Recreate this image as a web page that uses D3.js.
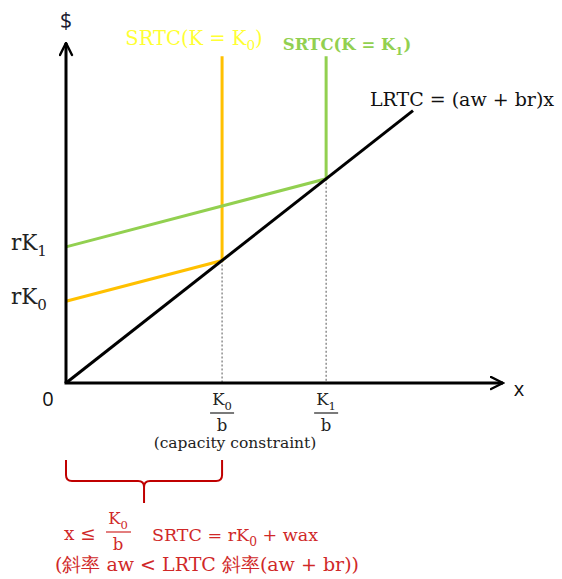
<!DOCTYPE html>
<html><head><meta charset="utf-8">
<script src="https://cdn.jsdelivr.net/npm/d3@7"></script>
<style>body{margin:0;background:#fff}svg{display:block}</style>
</head><body>
<script>
// ---- data ----
const kPoints = [3, 5];                 // K0/b, K1/b (capacity constraints)
const kLabels = ["0", "1"];
const fixedCost = [2, 3.333];           // rK0, rK1 (intercepts)
const srSlope = 1 / 3;                  // wa
const lrSlope = 1;                      // aw + br
const lrEnd = 6.67;                     // where LRTC line stops
const capTop = 8;                       // top of vertical capacity segments
const srColors = ["#FFC000", "#92D050"];
const srTitleColors = ["#FFFF33", "#92D050"];

const W = 562, H = 579;
const svg = d3.select("body").append("svg").attr("width", W).attr("height", H);
const x = d3.scaleLinear().domain([0, 8.4]).range([66, 503]);
const y = d3.scaleLinear().domain([0, 8.3]).range([383, 44]);
const serif = "'DejaVu Serif', serif";
const sans = "'Open Sans', 'DejaVu Sans', sans-serif";

// arrow markers
const defs = svg.append("defs");
defs.append("marker").attr("id", "arr").attr("viewBox", "0 0 10 10")
  .attr("refX", 9).attr("refY", 5).attr("markerWidth", 5).attr("markerHeight", 5)
  .attr("orient", "auto")
  .append("path").attr("d", "M1,1 L9,5 L1,9").attr("fill", "none")
  .attr("stroke", "#000").attr("stroke-width", 1.6).attr("stroke-linecap", "round");

const line = d3.line().x(d => x(d[0])).y(d => y(d[1]));

// dashed verticals
kPoints.forEach((k) => {
  svg.append("line").attr("x1", x(k)).attr("x2", x(k))
    .attr("y1", y(lrSlope * k)).attr("y2", y(0))
    .attr("stroke", "#555").attr("stroke-width", 1).attr("stroke-dasharray", "2,2");
});

// SRTC curves
kPoints.forEach((k, i) => {
  const pts = [[0, fixedCost[i]], [k, fixedCost[i] + srSlope * k], [k, capTop]];
  svg.append("path").attr("d", line(pts)).attr("fill", "none")
    .attr("stroke", srColors[i]).attr("stroke-width", 3);
});

// LRTC
svg.append("path").attr("d", line([[0, 0], [lrEnd, lrSlope * lrEnd]]))
  .attr("fill", "none").attr("stroke", "#000").attr("stroke-width", 3);

// axes
svg.append("line").attr("x1", x(0)).attr("y1", y(0)).attr("x2", x(0)).attr("y2", y(8.3) - 1)
  .attr("stroke", "#000").attr("stroke-width", 3).attr("marker-end", "url(#arr)");
svg.append("line").attr("x1", x(0) - 1.5).attr("y1", y(0)).attr("x2", x(8.4)).attr("y2", y(0))
  .attr("stroke", "#000").attr("stroke-width", 3).attr("marker-end", "url(#arr)");

// helper for text with subscript
function subText(g, px, py, main, sub, tail, size, color, anchor, weight) {
  const t = g.append("text").attr("x", px).attr("y", py).attr("font-family", serif)
    .attr("font-size", size).attr("fill", color).attr("text-anchor", anchor || "start")
    .attr("font-weight", weight || "normal");
  t.append("tspan").text(main);
  t.append("tspan").text(sub).attr("font-size", size * 0.7).attr("dy", size * 0.28);
  if (tail) t.append("tspan").text(tail).attr("dy", -size * 0.28);
  return t;
}

// axis labels
svg.append("text").attr("x", 66).attr("y", 28).attr("text-anchor", "middle")
  .attr("font-family", sans).attr("font-size", 21).attr("fill", "#1a1a2e").text("$");
svg.append("text").attr("x", 48).attr("y", 406).attr("text-anchor", "middle")
  .attr("font-family", sans).attr("font-size", 20).attr("fill", "#111").text("0");
svg.append("text").attr("x", 519).attr("y", 396).attr("text-anchor", "middle")
  .attr("font-family", sans).attr("font-size", 20).attr("fill", "#111").text("x");

// y labels rK
fixedCost.forEach((c, i) => {
  subText(svg, 11, y(c) + 3, "rK", kLabels[i], null, 21.5, "#222", "start");
});

// SRTC titles
subText(svg, 194, 45, "SRTC(K = K", kLabels[0], ")", 19.5, srTitleColors[0], "middle");
subText(svg, 347, 50, "SRTC(K = K", kLabels[1], ")", 16.5, srTitleColors[1], "middle", "bold");

// LRTC label
svg.append("text").attr("x", 462).attr("y", 106).attr("text-anchor", "middle")
  .attr("font-family", serif).attr("font-size", 19).attr("fill", "#111")
  .text("LRTC = (aw + br)x");

// fraction tick labels
kPoints.forEach((k, i) => {
  const cx = x(k);
  subText(svg, cx, 405, "K", kLabels[i], null, 16.5, "#222", "middle");
  svg.append("line").attr("x1", cx - 12).attr("x2", cx + 12).attr("y1", 413).attr("y2", 413)
    .attr("stroke", "#222").attr("stroke-width", 1.2);
  svg.append("text").attr("x", cx).attr("y", 431).attr("text-anchor", "middle")
    .attr("font-family", serif).attr("font-size", 16.5).attr("fill", "#222").text("b");
});
svg.append("text").attr("x", 235).attr("y", 448).attr("text-anchor", "middle")
  .attr("font-family", serif).attr("font-size", 15.5).attr("fill", "#222")
  .text("(capacity constraint)");

// red brace
const red = "#C00000";
const bx0 = x(0), bx1 = x(kPoints[0]), bm = (bx0 + bx1) / 2;
svg.append("path").attr("fill", "none").attr("stroke", red).attr("stroke-width", 2)
  .attr("d", `M${bx0},460 L${bx0},475 Q${bx0},481 ${bx0 + 6},481 L${bm - 6},481 Q${bm},481 ${bm},487 L${bm},503
              M${bm},487 Q${bm},481 ${bm + 6},481 L${bx1 - 6},481 Q${bx1},481 ${bx1},475 L${bx1},460`);

// red texts
const tr = "#D02828";
svg.append("text").attr("x", 64).attr("y", 540).attr("font-family", serif)
  .attr("font-size", 18.5).attr("fill", tr).text("x ≤");
subText(svg, 118, 524, "K", "0", null, 16.5, tr, "middle");
svg.append("line").attr("x1", 106).attr("x2", 131).attr("y1", 532).attr("y2", 532)
  .attr("stroke", tr).attr("stroke-width", 1.2);
svg.append("text").attr("x", 118).attr("y", 550).attr("text-anchor", "middle")
  .attr("font-family", serif).attr("font-size", 16.5).attr("fill", tr).text("b");
subText(svg, 152, 541, "SRTC = rK", "0", " + wax", 17.5, tr, "start");
svg.append("text").attr("x", 55).attr("y", 571).attr("font-family", serif)
  .attr("font-size", 19).attr("fill", tr).text("(斜率 aw < LRTC 斜率(aw + br))");
</script>
</body></html>
